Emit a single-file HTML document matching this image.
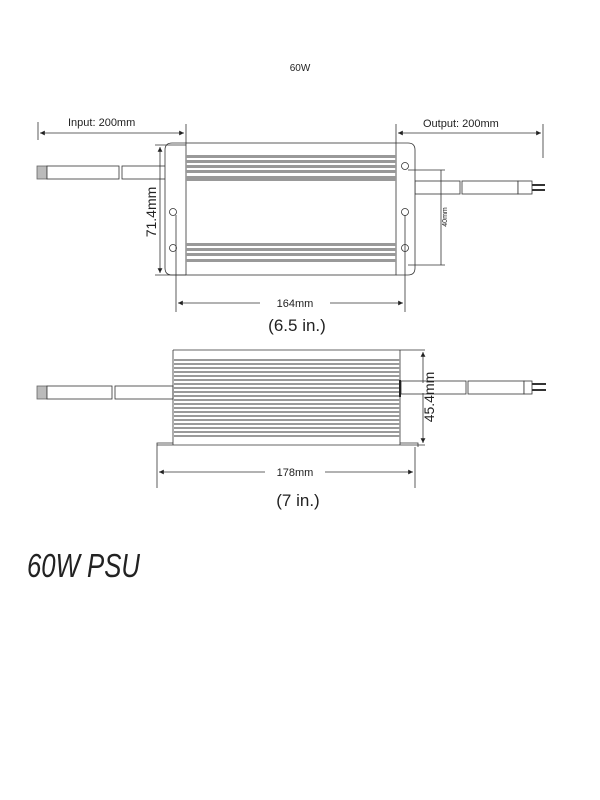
<!DOCTYPE html>
<html><head><meta charset="utf-8"><style>
html,body{margin:0;padding:0;background:#fff;width:600px;height:800px;overflow:hidden}
svg{display:block}
text{font-family:"Liberation Sans",sans-serif;fill:#222}
</style></head><body>
<svg width="600" height="800" viewBox="0 0 600 800" xmlns="http://www.w3.org/2000/svg">
<defs>
<marker id="a" markerWidth="6" markerHeight="6" refX="6" refY="3" orient="auto-start-reverse"><path d="M0,0 L6,3 L0,6z" fill="#222"/></marker>
</defs>
<text x="300" y="71" font-size="10" text-anchor="middle">60W</text>
<g stroke="#333" stroke-width="0.8" fill="none">
<line x1="38" y1="122" x2="38" y2="140"/>
<line x1="40" y1="133" x2="184" y2="133" marker-start="url(#a)" marker-end="url(#a)"/>
<line x1="186" y1="124" x2="186" y2="145"/>
<line x1="396" y1="124" x2="396" y2="145"/>
<line x1="398" y1="133" x2="541" y2="133" marker-start="url(#a)" marker-end="url(#a)"/>
<line x1="543" y1="124" x2="543" y2="158"/>
<rect x="37" y="166" width="10" height="13" fill="#bbb" stroke="#666"/>
<rect x="47" y="166" width="72" height="13" fill="#fff"/>
<rect x="122" y="166" width="63" height="13" fill="#fff"/>
<rect x="415" y="181" width="45" height="13" fill="#fff"/>
<rect x="462" y="181" width="56" height="13" fill="#fff"/>
<rect x="518" y="181" width="14" height="13" fill="#fff"/>
<line x1="532" y1="185" x2="545" y2="185" stroke-width="2"/>
<line x1="532" y1="190" x2="545" y2="190" stroke-width="2"/>
<path d="M186,143 L172,143 Q165,143 165,150 L165,268 Q165,275 172,275 L186,275" fill="#fff"/>
<path d="M396,143 L408,143 Q415,143 415,150 L415,268 Q415,275 408,275 L396,275" fill="#fff"/>
<rect x="186" y="143" width="210" height="132" fill="#fff"/>
<circle cx="405" cy="166" r="3.5"/><circle cx="173" cy="212" r="3.5"/><circle cx="173" cy="248" r="3.5"/>
<circle cx="405" cy="212" r="3.5"/><circle cx="405" cy="248" r="3.5"/>
<line x1="155" y1="145" x2="186" y2="145"/><line x1="155" y1="275" x2="186" y2="275"/>
<line x1="160" y1="147" x2="160" y2="273" marker-start="url(#a)" marker-end="url(#a)"/>
<line x1="408" y1="170" x2="445" y2="170"/><line x1="408" y1="265" x2="445" y2="265"/>
<line x1="441" y1="170" x2="441" y2="265"/>
<line x1="176" y1="215" x2="176" y2="312"/><line x1="405" y1="215" x2="405" y2="312"/>
<line x1="178" y1="303" x2="403" y2="303" marker-start="url(#a)" marker-end="url(#a)"/>
</g>
<g fill="#999">
<rect x="186" y="155" width="210" height="3"/><rect x="186" y="160" width="210" height="3"/>
<rect x="186" y="165" width="210" height="3"/><rect x="186" y="170" width="210" height="3"/>
<rect x="186" y="176" width="210" height="5"/>
<rect x="186" y="243" width="210" height="3"/><rect x="186" y="248" width="210" height="3"/>
<rect x="186" y="253" width="210" height="3"/><rect x="186" y="259" width="210" height="3"/>
</g>
<rect x="260" y="297" width="70" height="12" fill="#fff"/>
<text x="68" y="126" font-size="11">Input: 200mm</text>
<text x="423" y="127" font-size="11">Output:  200mm</text>
<text x="295" y="307" font-size="11" text-anchor="middle">164mm</text>
<text x="297" y="331" font-size="17" text-anchor="middle">(6.5 in.)</text>
<text transform="translate(156,212) rotate(-90)" font-size="14" text-anchor="middle">71.4mm</text>
<text transform="translate(447,217) rotate(-90)" font-size="7" text-anchor="middle">40mm</text>
<g stroke="#333" stroke-width="0.8" fill="none">
<rect x="37" y="386" width="10" height="13" fill="#bbb" stroke="#666"/>
<rect x="47" y="386" width="65" height="13" fill="#fff"/>
<rect x="115" y="386" width="58" height="13" fill="#fff"/>
<rect x="401" y="381" width="65" height="13" fill="#fff"/>
<rect x="468" y="381" width="56" height="13" fill="#fff"/>
<rect x="524" y="381" width="8" height="13" fill="#fff"/>
<line x1="532" y1="384" x2="546" y2="384" stroke-width="2"/><line x1="532" y1="390" x2="546" y2="390" stroke-width="2"/>
<line x1="173" y1="350" x2="425" y2="350"/>
<line x1="173" y1="350" x2="173" y2="445"/><line x1="400" y1="350" x2="400" y2="445"/>
<path d="M157,447 L157,443 L173,443"/><path d="M400,443 L418,443 L418,447"/>
<line x1="157" y1="445" x2="425" y2="445"/>
<line x1="423" y1="352" x2="423" y2="443" marker-start="url(#a)" marker-end="url(#a)"/>
<line x1="157" y1="447" x2="157" y2="488"/><line x1="415" y1="447" x2="415" y2="488"/>
<line x1="159" y1="472" x2="413" y2="472" marker-start="url(#a)" marker-end="url(#a)"/>
</g>
<rect x="405" y="383" width="20" height="10" fill="#fff"/>
<g fill="#9a9a9a">
<rect x="174" y="359" width="226" height="2"/><rect x="174" y="363" width="226" height="2"/>
<rect x="174" y="367" width="226" height="2"/><rect x="174" y="371" width="226" height="2"/>
<rect x="174" y="375" width="226" height="2"/><rect x="174" y="379" width="226" height="2"/>
<rect x="174" y="383" width="226" height="2"/><rect x="174" y="387" width="226" height="2"/>
<rect x="174" y="391" width="226" height="2"/><rect x="174" y="395" width="226" height="2"/>
<rect x="174" y="399" width="226" height="2"/><rect x="174" y="403" width="226" height="2"/>
<rect x="174" y="407" width="226" height="2"/><rect x="174" y="411" width="226" height="2"/>
<rect x="174" y="415" width="226" height="2"/><rect x="174" y="419" width="226" height="2"/>
<rect x="174" y="423" width="226" height="2"/><rect x="174" y="427" width="226" height="2"/>
<rect x="174" y="431" width="226" height="2"/><rect x="174" y="435" width="226" height="2"/>
</g>
<rect x="399" y="380" width="2" height="17" fill="#222"/>
<rect x="265" y="465" width="60" height="12" fill="#fff"/>
<text x="295" y="476" font-size="11" text-anchor="middle">178mm</text>
<text x="298" y="506" font-size="17" text-anchor="middle">(7 in.)</text>
<text transform="translate(434,397) rotate(-90)" font-size="14" text-anchor="middle">45.4mm</text>
<text transform="translate(27,577) scale(0.78,1)" font-size="33" font-style="italic" fill="#333">60W PSU</text>
</svg>
</body></html>
